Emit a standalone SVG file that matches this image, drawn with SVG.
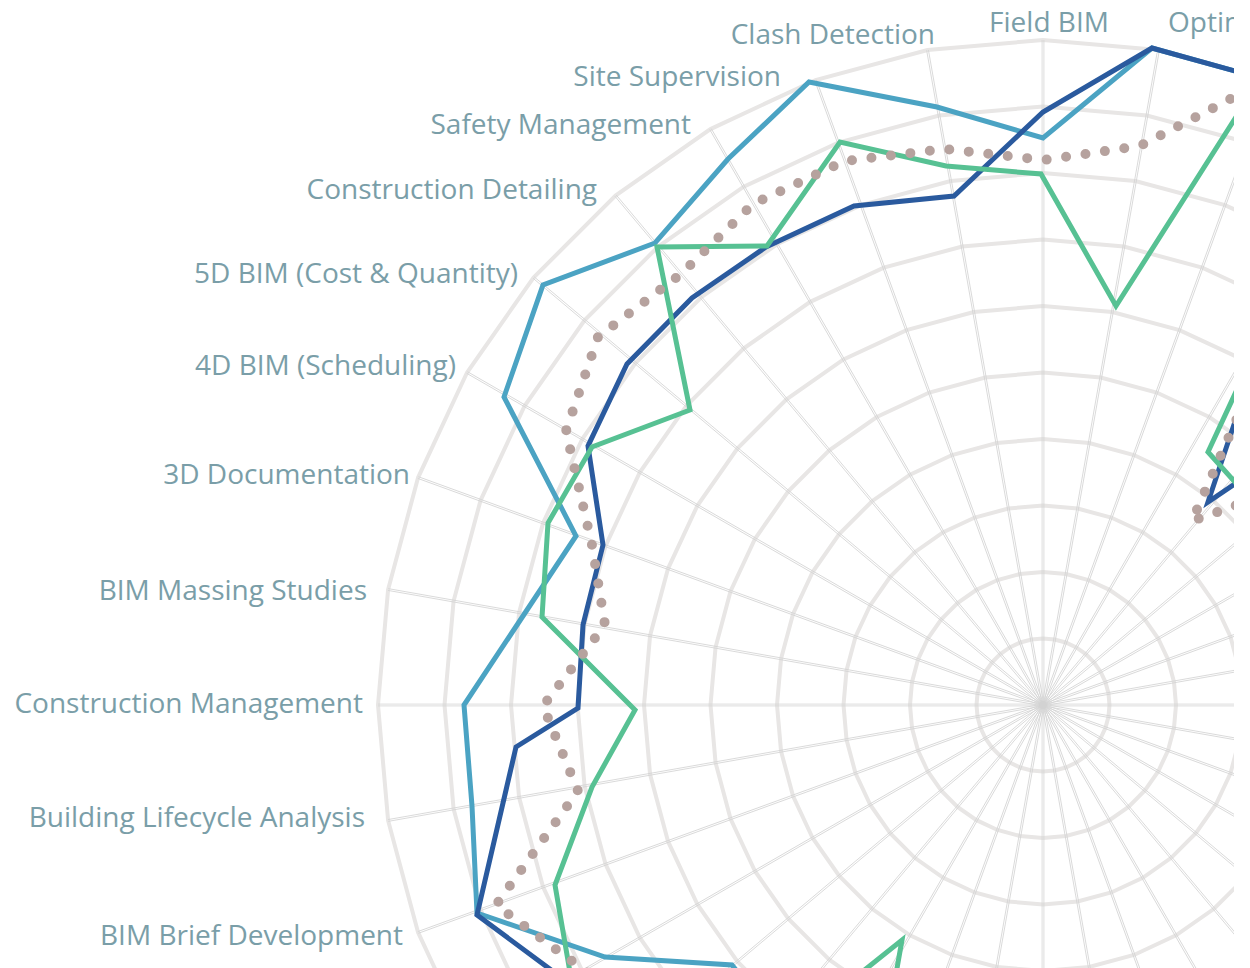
<svg xmlns="http://www.w3.org/2000/svg" width="1250" height="968" viewBox="0 0 1250 968">
<style>
.ring{fill:none;stroke:#e8e6e5}
.spk line{stroke:#d4d4d4;stroke-width:0.8}
.lbl{font-family:"Open Sans","Noto Sans","Liberation Sans",sans-serif;font-size:28px;fill:#7a9ea8}
.ser{fill:none;stroke-width:5;stroke-linejoin:miter;stroke-linecap:butt}
.dots{fill:none;stroke:#b6a29e;stroke-width:10;stroke-linecap:round;stroke-dasharray:0 19.6}
</style>
<defs>
<clipPath id="clip"><rect x="0" y="0" width="1234" height="968"/></clipPath>
<polygon id="ring" class="ring" points="1,0 0.98481,0.17365 0.93969,0.34202 0.86603,0.5 0.76604,0.64279 0.64279,0.76604 0.5,0.86603 0.34202,0.93969 0.17365,0.98481 0,1 -0.17365,0.98481 -0.34202,0.93969 -0.5,0.86603 -0.64279,0.76604 -0.76604,0.64279 -0.86603,0.5 -0.93969,0.34202 -0.98481,0.17365 -1,0 -0.98481,-0.17365 -0.93969,-0.34202 -0.86603,-0.5 -0.76604,-0.64279 -0.64279,-0.76604 -0.5,-0.86603 -0.34202,-0.93969 -0.17365,-0.98481 0,-1 0.17365,-0.98481 0.34202,-0.93969 0.5,-0.86603 0.64279,-0.76604 0.76604,-0.64279 0.86603,-0.5 0.93969,-0.34202 0.98481,-0.17365"/>
<g id="spk" class="spk"><line x1="1043" y1="704.1" x2="1708" y2="704.1"/><line x1="1043" y1="705.9" x2="1708" y2="705.9"/></g>
</defs>
<rect width="1250" height="968" fill="#ffffff"/>
<g clip-path="url(#clip)">
<g id="grid">
<use href="#ring" transform="translate(1043 705) scale(66.5)" stroke-width="0.06015"/>
<use href="#ring" transform="translate(1043 705) scale(133)" stroke-width="0.030075"/>
<use href="#ring" transform="translate(1043 705) scale(199.5)" stroke-width="0.02005"/>
<use href="#ring" transform="translate(1043 705) scale(266)" stroke-width="0.015038"/>
<use href="#ring" transform="translate(1043 705) scale(332.5)" stroke-width="0.01203"/>
<use href="#ring" transform="translate(1043 705) scale(399)" stroke-width="0.010025"/>
<use href="#ring" transform="translate(1043 705) scale(465.5)" stroke-width="0.008593"/>
<use href="#ring" transform="translate(1043 705) scale(532)" stroke-width="0.007519"/>
<use href="#ring" transform="translate(1043 705) scale(598.5)" stroke-width="0.006683"/>
<use href="#ring" transform="translate(1043 705) scale(665)" stroke-width="0.006015"/>
<use href="#spk"/>
<use href="#spk" transform="rotate(10 1043 705)"/>
<use href="#spk" transform="rotate(20 1043 705)"/>
<use href="#spk" transform="rotate(30 1043 705)"/>
<use href="#spk" transform="rotate(40 1043 705)"/>
<use href="#spk" transform="rotate(50 1043 705)"/>
<use href="#spk" transform="rotate(60 1043 705)"/>
<use href="#spk" transform="rotate(70 1043 705)"/>
<use href="#spk" transform="rotate(80 1043 705)"/>
<use href="#spk" transform="rotate(90 1043 705)"/>
<use href="#spk" transform="rotate(100 1043 705)"/>
<use href="#spk" transform="rotate(110 1043 705)"/>
<use href="#spk" transform="rotate(120 1043 705)"/>
<use href="#spk" transform="rotate(130 1043 705)"/>
<use href="#spk" transform="rotate(140 1043 705)"/>
<use href="#spk" transform="rotate(150 1043 705)"/>
<use href="#spk" transform="rotate(160 1043 705)"/>
<use href="#spk" transform="rotate(170 1043 705)"/>
<use href="#spk" transform="rotate(180 1043 705)"/>
<use href="#spk" transform="rotate(190 1043 705)"/>
<use href="#spk" transform="rotate(200 1043 705)"/>
<use href="#spk" transform="rotate(210 1043 705)"/>
<use href="#spk" transform="rotate(220 1043 705)"/>
<use href="#spk" transform="rotate(230 1043 705)"/>
<use href="#spk" transform="rotate(240 1043 705)"/>
<use href="#spk" transform="rotate(250 1043 705)"/>
<use href="#spk" transform="rotate(260 1043 705)"/>
<use href="#spk" transform="rotate(270 1043 705)"/>
<use href="#spk" transform="rotate(280 1043 705)"/>
<use href="#spk" transform="rotate(290 1043 705)"/>
<use href="#spk" transform="rotate(300 1043 705)"/>
<use href="#spk" transform="rotate(310 1043 705)"/>
<use href="#spk" transform="rotate(320 1043 705)"/>
<use href="#spk" transform="rotate(330 1043 705)"/>
<use href="#spk" transform="rotate(340 1043 705)"/>
<use href="#spk" transform="rotate(350 1043 705)"/>
<circle cx="1043" cy="705" r="4" fill="#d2d2d2"/>
</g>
<g id="labels">
<text id="lbl-optim" class="lbl" x="1168" y="32">Optim</text>
<text id="lbl-field" class="lbl" x="1049" y="32" text-anchor="middle">Field BIM</text>
<text id="lbl-clash" class="lbl" x="935" y="44" text-anchor="end">Clash Detection</text>
<text id="lbl-site" class="lbl" x="781" y="86" text-anchor="end">Site Supervision</text>
<text id="lbl-safety" class="lbl" x="691" y="134" text-anchor="end">Safety Management</text>
<text id="lbl-detail" class="lbl" x="597" y="199" text-anchor="end">Construction Detailing</text>
<text id="lbl-5d" class="lbl" x="518" y="283" text-anchor="end">5D BIM (Cost &amp; Quantity)</text>
<text id="lbl-4d" class="lbl" x="456" y="375" text-anchor="end">4D BIM (Scheduling)</text>
<text id="lbl-3d" class="lbl" x="410" y="484" text-anchor="end">3D Documentation</text>
<text id="lbl-mass" class="lbl" x="367" y="600" text-anchor="end">BIM Massing Studies</text>
<text id="lbl-cm" class="lbl" x="363" y="713" text-anchor="end">Construction Management</text>
<text id="lbl-bla" class="lbl" x="365" y="827" text-anchor="end">Building Lifecycle Analysis</text>
<text id="lbl-brief" class="lbl" x="403" y="945" text-anchor="end">BIM Brief Development</text>
</g>
<g id="series">
<path id="s-lightblue" class="ser" stroke="#4ba3c3" d="M1260 78 L1152 48 L1043 138 L937 107 L809 82 L728 159 L655 243 L543 285 L504 397 L576 536 L464 705 L472 806 L477 913 L605 957 L732 965 L760 1000"/>
<path id="s-darkblue" class="ser" stroke="#2a5a9e" d="M1260 78 L1152 48 L1043 112 L954 196 L854 206 L766 247 L692 298 L627 364 L588 446 L603 545 L583 625 L578 708 L516 747 L477 915 L566 981 L700 1050 M1260 347 L1208 502 L1260 467"/>
<path id="s-green" class="ser" stroke="#57c193" d="M1262 76 L1116 306 L1041 174 L946 166 L840 142 L767 246 L657 247 L690 410 L592 447 L548 523 L542 617 L635 710 L592 787 L555 885 L571 978 L629 1052 L731 1077 L902 940 L849 1240 M1260 340 L1208 452 L1260 510"/>
<path id="s-dotted" class="dots" d="M1265 81 L1140 146 L1044 160 L945 149 L845 161 L753 204 L681 274 L598 337 L566 431 L592 545 L605 625 L543 706 L578 791 L496 905 L584 970 L700 1060 M1260 366 L1192 521 L1260 497"/>
</g>
</g>
</svg>
